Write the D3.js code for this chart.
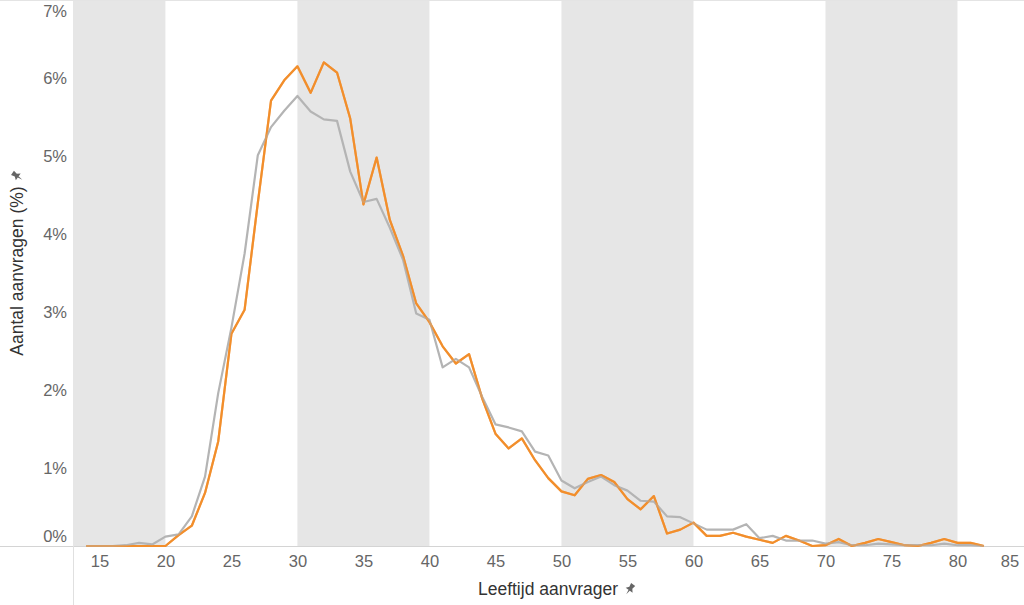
<!DOCTYPE html>
<html>
<head>
<meta charset="utf-8">
<script src="https://cdn.jsdelivr.net/npm/d3@7"></script>
<style>
  body { margin: 0; background: #fff; }
  svg { display: block; font-family: "Liberation Sans", Arial, sans-serif; }
</style>
</head>
<body>
<svg id="chart" width="1024" height="605"></svg>
<script>
// Ages on the x axis.
var ages = [14, 15, 16, 17, 18, 19, 20, 21, 22, 23, 24, 25, 26, 27, 28, 29, 30, 31, 32, 33,
    34, 35, 36, 37, 38, 39, 40, 41, 42, 43, 44, 45, 46, 47, 48, 49, 50, 51, 52, 53,
    54, 55, 56, 57, 58, 59, 60, 61, 62, 63, 64, 65, 66, 67, 68, 69, 70, 71, 72, 73,
    74, 75, 76, 77, 78, 79, 80, 81, 82];

// Grey line (percentage of requests per age).
var greyValues = [0, 0, 0, 0.01, 0.04, 0.02, 0.12, 0.15, 0.38, 0.89, 1.96, 2.8, 3.75, 5.01,
    5.37, 5.58, 5.77, 5.57, 5.47, 5.45, 4.80, 4.41, 4.45, 4.08, 3.67, 2.98, 2.90, 2.29,
    2.40, 2.29, 1.91, 1.56, 1.52, 1.47, 1.21, 1.16, 0.84, 0.74, 0.82, 0.89, 0.78, 0.71,
    0.58, 0.57, 0.38, 0.37, 0.29, 0.21, 0.21, 0.21, 0.28, 0.10, 0.13, 0.07, 0.07, 0.07,
    0.03, 0.05, 0.01, 0.01, 0.03, 0.02, 0.01, 0.01, 0.01, 0.03, 0.01, 0.01, 0];

// Orange line.
var orangeValues = [0, 0, 0, 0, 0, 0, 0, 0.14, 0.26, 0.68, 1.34, 2.72, 3.03, 4.40, 5.71,
    5.97, 6.15, 5.81, 6.20, 6.07, 5.48, 4.38, 4.98, 4.18, 3.72, 3.11, 2.87, 2.56, 2.34,
    2.46, 1.89, 1.44, 1.25, 1.38, 1.10, 0.87, 0.70, 0.65, 0.86, 0.91, 0.82, 0.60, 0.47,
    0.64, 0.16, 0.21, 0.30, 0.13, 0.13, 0.17, 0.12, 0.08, 0.04, 0.13, 0.07, 0, 0.01,
    0.09, 0, 0.04, 0.09, 0.05, 0.01, 0, 0.04, 0.09, 0.04, 0.04, 0];

// Shaded age bands.
var bandStarts = [13, 30, 50, 70];
var bandEnds = [20, 40, 60, 80];

var xTicks = [15, 20, 25, 30, 35, 40, 45, 50, 55, 60, 65, 70, 75, 80, 85];
var yTicks = [0, 1, 2, 3, 4, 5, 6, 7];

var width = 1024, height = 605;
var svg = d3.select("#chart");

var x = d3.scaleLinear().domain([13, 85]).range([73, 1023.5]);
var y = d3.scaleLinear().domain([0, 7]).range([546, 0]);

// Background bands.
svg.selectAll(".band")
    .data(bandStarts)
    .enter()
    .append("rect")
    .attr("class", "band")
    .attr("x", function (d) { return x(d); })
    .attr("y", y(7))
    .attr("width", function (d, i) { return x(bandEnds[i]) - x(d); })
    .attr("height", y(0) - y(7))
    .attr("fill", "#e6e6e6");

// Top border line.
svg.append("line")
    .attr("x1", 0).attr("x2", width)
    .attr("y1", 0.5).attr("y2", 0.5)
    .attr("stroke", "#e4e4e4");

// Baseline and the divider below the plot.
svg.append("line")
    .attr("x1", 0).attr("x2", width)
    .attr("y1", y(0) + 0.5).attr("y2", y(0) + 0.5)
    .attr("stroke", "#d4d4d4");
svg.append("line")
    .attr("x1", x(13) + 0.5).attr("x2", x(13) + 0.5)
    .attr("y1", y(0)).attr("y2", height)
    .attr("stroke", "#e0e0e0");

// X axis.
var xAxis = svg.append("g")
    .attr("transform", "translate(0," + y(0) + ")")
    .call(d3.axisBottom(x).tickValues(xTicks).tickSize(0).tickPadding(9));
xAxis.select(".domain").remove();
xAxis.selectAll("text")
    .attr("fill", "#666")
    .attr("font-size", 16.5)
    .attr("font-family", "Liberation Sans, Arial, sans-serif")
    .attr("x", function (d) { return d === 85 ? -14 : 0; });

// Y axis, labels kept inside the plot at the ends.
var yAxis = svg.append("g")
    .attr("transform", "translate(67,0)")
    .call(d3.axisLeft(y).tickValues(yTicks).tickSize(0).tickPadding(0)
        .tickFormat(function (d) { return d + "%"; }));
yAxis.select(".domain").remove();
yAxis.selectAll("text")
    .attr("fill", "#666")
    .attr("font-size", 16.5)
    .attr("font-family", "Liberation Sans, Arial, sans-serif")
    .attr("y", function (d) {
        if (d === 0) return -10;
        if (d === 7) return 11;
        return 0;
    });

// Lines.
var line = d3.line()
    .x(function (d, i) { return x(ages[i]); })
    .y(function (d) { return y(d); });

svg.append("path")
    .datum(orangeValues)
    .attr("fill", "none")
    .attr("stroke", "#f28e2b")
    .attr("stroke-width", 2.2)
    .attr("stroke-linejoin", "round")
    .attr("d", line);

svg.append("path")
    .datum(greyValues)
    .attr("fill", "none")
    .attr("stroke", "#b4b4b4")
    .attr("stroke-width", 2.2)
    .attr("stroke-linejoin", "round")
    .attr("d", line);

// Orange drawn again on top so it stays in front where they cross.
svg.append("path")
    .datum(orangeValues)
    .attr("fill", "none")
    .attr("stroke", "#f28e2b")
    .attr("stroke-width", 2.2)
    .attr("stroke-linejoin", "round")
    .attr("stroke-opacity", 0.6)
    .attr("d", line);

// Small pin icon used next to the axis titles.
function pin(g) {
    g.append("path")
        .attr("d", "M-2.5,-5.5 L2.5,-5.5 L1.8,-1.5 L4.2,1.5 L-4.2,1.5 L-1.8,-1.5 Z M-0.7,1.5 L0,6.5 L0.7,1.5 Z")
        .attr("fill", "#666");
}

// Axis titles.
svg.append("text")
    .attr("x", 548)
    .attr("y", 595)
    .attr("text-anchor", "middle")
    .attr("font-size", 17.5)
    .attr("fill", "#333")
    .text("Leeftijd aanvrager");
svg.append("g")
    .attr("transform", "translate(630,589) rotate(35)")
    .call(pin);

svg.append("text")
    .attr("transform", "translate(23,271) rotate(-90)")
    .attr("text-anchor", "middle")
    .attr("font-size", 17.5)
    .attr("fill", "#333")
    .text("Aantal aanvragen (%)");
svg.append("g")
    .attr("transform", "translate(17,176) rotate(-55)")
    .call(pin);
</script>
</body>
</html>
